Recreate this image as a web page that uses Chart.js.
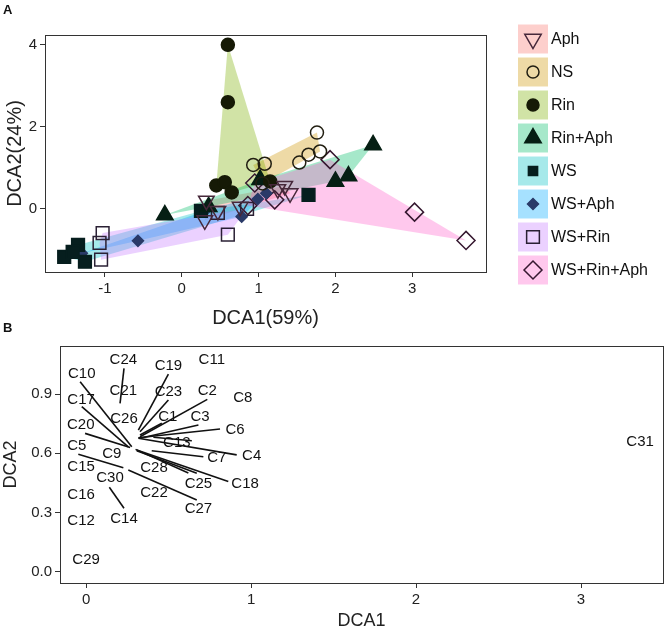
<!DOCTYPE html>
<html>
<head>
<meta charset="utf-8">
<script src="https://cdn.jsdelivr.net/npm/chart.js@4.4.0/dist/chart.umd.min.js"></script>
<style>
  body { margin: 0; background: #fff; }
  #wrap { position: relative; width: 666px; height: 632px; font-family: "Liberation Sans", Arial, sans-serif; }
  canvas { position: absolute; left: 0; }
  #cA { top: 0; }
  #cB { top: 318px; }
  .tag { position: absolute; font-weight: bold; font-size: 13px; color: #111; }
</style>
</head>
<body>
<div id="wrap">
  <canvas id="cA" width="666" height="332"></canvas>
  <canvas id="cB" width="666" height="314"></canvas>
  <div class="tag" style="left:3px;top:2px">A</div>
  <div class="tag" style="left:3px;top:320px">B</div>
</div>
<script>
// ---- panel A : sample scores (DCA1, DCA2) per treatment
const groups = ['Aph', 'NS', 'Rin', 'Rin+Aph', 'WS', 'WS+Aph', 'WS+Rin', 'WS+Rin+Aph'];
const aphPts = [[0.32, 0.20], [0.30, -0.28], [0.47, -0.05], [0.76, 0.05], [1.25, 0.48], [1.34, 0.56], [1.41, 0.38]];
const nsPts = [[0.93, 1.07], [1.08, 1.10], [1.05, 0.62], [1.53, 1.13], [1.65, 1.32], [1.80, 1.40], [1.76, 1.86]];
const rinPts = [[0.60, 4.0], [0.60, 2.6], [0.45, 0.57], [0.56, 0.65], [0.65, 0.40], [1.15, 0.67]];
const rinAphPts = [[-0.22, -0.15], [0.35, 0.05], [1.02, 0.71], [2.49, 1.56], [2.17, 0.80], [2.00, 0.67]];
const wsPts = [[-1.53, -1.17], [-1.35, -0.88], [-1.26, -1.29], [-1.42, -1.05], [0.25, -0.05], [1.65, 0.34]];
const wsAphPts = [[-1.30, -1.08], [-0.57, -0.78], [0.30, -0.05], [0.78, -0.19], [0.99, 0.24], [1.10, 0.38]];
const wsRinPts = [[-1.03, -0.59], [-1.07, -0.83], [-1.05, -1.24], [0.47, -0.10], [0.60, -0.63], [0.85, 0.0]];
const wsRinAphPts = [[0.95, 0.63], [0.86, 0.08], [1.21, 0.22], [1.93, 1.20], [3.03, -0.08], [3.70, -0.77]];
const groupPts = [aphPts, nsPts, rinPts, rinAphPts, wsPts, wsAphPts, wsRinPts, wsRinAphPts];
const xTicksA = [-1, 0, 1, 2, 3];
const yTicksA = [0, 2, 4];

// ---- panel B : compound scores
const compNames = ['C1', 'C2', 'C3', 'C4', 'C5', 'C6', 'C7', 'C8', 'C9', 'C10',
  'C11', 'C12', 'C13', 'C14', 'C15', 'C16', 'C17', 'C18', 'C19', 'C20',
  'C21', 'C22', 'C23', 'C24', 'C25', 'C26', 'C27', 'C28', 'C29', 'C30', 'C31'];
const compX = [0.495, 0.735, 0.691, 1.004, -0.056, 0.903, 0.792, 0.950, 0.156, -0.026,
  0.762, -0.030, 0.550, 0.230, -0.030, -0.030, -0.030, 0.964, 0.499, -0.032,
  0.226, 0.412, 0.499, 0.226, 0.681, 0.230, 0.681, 0.412, 0.000, 0.145, 3.358];
const compY = [0.785, 0.915, 0.785, 0.588, 0.637, 0.718, 0.575, 0.883, 0.595, 1.001,
  1.072, 0.259, 0.651, 0.271, 0.532, 0.389, 0.873, 0.448, 1.041, 0.743,
  0.917, 0.401, 0.912, 1.072, 0.448, 0.772, 0.317, 0.529, 0.061, 0.474, 0.659];
// label connector segments (from, to)
const segX0 = [0.230, -0.036, -0.026, -0.006, -0.047, 0.256, 0.141, 0.499, 0.499, 0.735, 0.459, 0.681, 0.812, 0.408, 0.913, 0.711, 0.862, 0.671, 0.300];
const segY0 = [1.030, 0.962, 0.836, 0.701, 0.595, 0.516, 0.428, 1.001, 0.870, 0.873, 0.752, 0.743, 0.723, 0.681, 0.592, 0.583, 0.457, 0.499, 0.620];
const segX1 = [0.206, 0.277, 0.256, 0.267, 0.226, 0.671, 0.230, 0.317, 0.327, 0.327, 0.327, 0.327, 0.317, 0.641, 0.317, 0.398, 0.307, 0.307, 0.620];
const segY1 = [0.853, 0.633, 0.633, 0.630, 0.527, 0.364, 0.322, 0.718, 0.709, 0.684, 0.693, 0.676, 0.679, 0.664, 0.676, 0.613, 0.617, 0.613, 0.500];
const xTicksB = [0, 1, 2, 3];
const yTicksB = [0, 0.3, 0.6, 0.9];

// ---- styles
const hullColors = ['#F8766D', '#CD9600', '#7CAE00', '#00BE67', '#00BFC4', '#00A9FF', '#C77CFF', '#FF61CC'];
const markColors = ['#46283a', '#221f12', '#161a06', '#061f14', '#061e1e', '#2a3a68', '#2a2034', '#361830'];
const markStyle = [
  { style: 'triangle', rot: 180, r: 9, filled: false, lr: 9.5 },
  { style: 'circle', rot: 0, r: 6.5, filled: false, lr: 6 },
  { style: 'circle', rot: 0, r: 6.5, filled: true, lr: 6 },
  { style: 'triangle', rot: 0, r: 9.5, filled: true, lr: 9.5 },
  { style: 'rect', rot: 0, r: 9, filled: true, lr: 6.5 },
  { style: 'rectRot', rot: 0, r: 5.5, filled: true, lr: 5.5 },
  { style: 'rect', rot: 0, r: 9, filled: false, lr: 9 },
  { style: 'rectRot', rot: 0, r: 9, filled: false, lr: 9 }
];

Chart.defaults.font.family = '"Liberation Sans", Arial, sans-serif';
Chart.defaults.color = '#222';

function rgba(hex, a) {
  const n = parseInt(hex.slice(1), 16);
  return `rgba(${(n >> 16) & 255},${(n >> 8) & 255},${n & 255},${a})`;
}

// convex hull (monotone chain)
function hull(pts) {
  const p = pts.slice().sort((a, b) => a[0] - b[0] || a[1] - b[1]);
  const cross = (o, a, b) => (a[0] - o[0]) * (b[1] - o[1]) - (a[1] - o[1]) * (b[0] - o[0]);
  const lo = [], up = [];
  p.forEach(q => { while (lo.length >= 2 && cross(lo[lo.length - 2], lo[lo.length - 1], q) <= 0) lo.pop(); lo.push(q); });
  p.slice().reverse().forEach(q => { while (up.length >= 2 && cross(up[up.length - 2], up[up.length - 1], q) <= 0) up.pop(); up.push(q); });
  return lo.slice(0, -1).concat(up.slice(0, -1));
}

const hullPlugin = {
  id: 'hulls',
  beforeDatasetsDraw(chart) {
    const { ctx, chartArea: a, scales: { x, y } } = chart;
    ctx.save();
    ctx.beginPath();
    ctx.rect(a.left, a.top, a.right - a.left, a.bottom - a.top);
    ctx.clip();
    groupPts.forEach((pts, i) => {
      ctx.beginPath();
      hull(pts).forEach((q, k) => {
        const px = x.getPixelForValue(q[0]), py = y.getPixelForValue(q[1]);
        if (k) ctx.lineTo(px, py); else ctx.moveTo(px, py);
      });
      ctx.closePath();
      ctx.fillStyle = rgba(hullColors[i], 0.35);
      ctx.fill();
    });
    ctx.restore();
  }
};

const boxPlugin = {
  id: 'box',
  afterDraw(chart) {
    const { ctx, chartArea: a } = chart;
    ctx.save();
    ctx.strokeStyle = '#333';
    ctx.lineWidth = 1;
    ctx.strokeRect(a.left + 0.5, a.top + 0.5, a.right - a.left, a.bottom - a.top);
    ctx.restore();
  }
};

// legend with coloured key backgrounds
const keyPlugin = {
  id: 'keys',
  afterDraw(chart) {
    const { ctx, chartArea: a } = chart;
    const x0 = a.right + 32;
    ctx.save();
    groups.forEach((g, i) => {
      const cy = 39 + i * 33;
      ctx.fillStyle = rgba(hullColors[i], 0.35);
      ctx.fillRect(x0, cy - 14.5, 30, 29);
      const st = markStyle[i];
      ctx.fillStyle = st.filled ? markColors[i] : 'rgba(0,0,0,0)';
      ctx.strokeStyle = markColors[i];
      ctx.lineWidth = 1.5;
      Chart.helpers.drawPoint(ctx, { pointStyle: st.style, rotation: st.rot, radius: st.lr, borderWidth: 1.5 }, x0 + 15, cy);
      ctx.fillStyle = '#111';
      ctx.font = '16px "Liberation Sans", Arial, sans-serif';
      ctx.textAlign = 'left';
      ctx.textBaseline = 'middle';
      ctx.fillText(g, x0 + 33, cy + 1);
    });
    ctx.restore();
  }
};

const textPlugin = {
  id: 'compText',
  afterDatasetsDraw(chart) {
    const { ctx, scales: { x, y } } = chart;
    ctx.save();
    ctx.fillStyle = '#111';
    ctx.font = '15px "Liberation Sans", Arial, sans-serif';
    ctx.textAlign = 'center';
    ctx.textBaseline = 'middle';
    compNames.forEach((n, i) => ctx.fillText(n, x.getPixelForValue(compX[i]), y.getPixelForValue(compY[i])));
    ctx.restore();
  }
};

function axis(min, max, ticks, size, title, titlePad, titleSize, fmt) {
  return {
    type: 'linear', min: min, max: max,
    afterFit: s => { if (s.isHorizontal()) s.height = size; else s.width = size; },
    afterBuildTicks: s => { s.ticks = ticks.map(v => ({ value: v })); },
    grid: { drawOnChartArea: false, drawTicks: true, tickLength: 5, color: '#333' },
    border: { color: '#333', width: 1 },
    ticks: { color: '#222', font: { size: 15 }, padding: 3, maxRotation: 0, callback: fmt || (v => v) },
    title: { display: true, text: title, color: '#222', font: { size: titleSize }, padding: titlePad }
  };
}

new Chart(document.getElementById('cA'), {
  type: 'scatter',
  data: {
    datasets: groups.map((g, i) => ({
      label: g,
      data: groupPts[i].map(p => ({ x: p[0], y: p[1] })),
      pointStyle: markStyle[i].style,
      pointRotation: markStyle[i].rot,
      pointRadius: markStyle[i].r,
      pointHoverRadius: markStyle[i].r,
      pointBorderWidth: 1.5,
      pointBackgroundColor: markStyle[i].filled ? markColors[i] : 'rgba(0,0,0,0)',
      pointBorderColor: markColors[i]
    }))
  },
  options: {
    responsive: false,
    animation: false,
    events: [],
    layout: { padding: { top: 35, right: 180, bottom: 0, left: 0 } },
    scales: {
      x: axis(-1.78, 3.96, xTicksA, 60, 'DCA1(59%)', { top: 0, bottom: 2 }, 20),
      y: axis(-1.54, 4.24, yTicksA, 45, 'DCA2(24%)', { top: 3, bottom: 0 }, 20)
    },
    plugins: { legend: { display: false }, tooltip: { enabled: false } }
  },
  plugins: [hullPlugin, boxPlugin, keyPlugin]
});

new Chart(document.getElementById('cB'), {
  type: 'scatter',
  data: {
    datasets: segX0.map((v, i) => ({
      data: [{ x: segX0[i], y: segY0[i] }, { x: segX1[i], y: segY1[i] }],
      showLine: true,
      borderColor: '#111',
      borderWidth: 1.6,
      pointRadius: 0
    }))
  },
  options: {
    responsive: false,
    animation: false,
    events: [],
    layout: { padding: { top: 28, right: 3, bottom: 0, left: 0 } },
    scales: {
      x: axis(-0.158, 3.497, xTicksB, 49, 'DCA1', { top: 0, bottom: 0 }, 18),
      y: axis(-0.056, 1.143, yTicksB, 60, 'DCA2', { top: 0, bottom: 0 }, 18, v => v.toFixed(1))
    },
    plugins: { legend: { display: false }, tooltip: { enabled: false } }
  },
  plugins: [boxPlugin, textPlugin]
});
</script>
</body>
</html>
